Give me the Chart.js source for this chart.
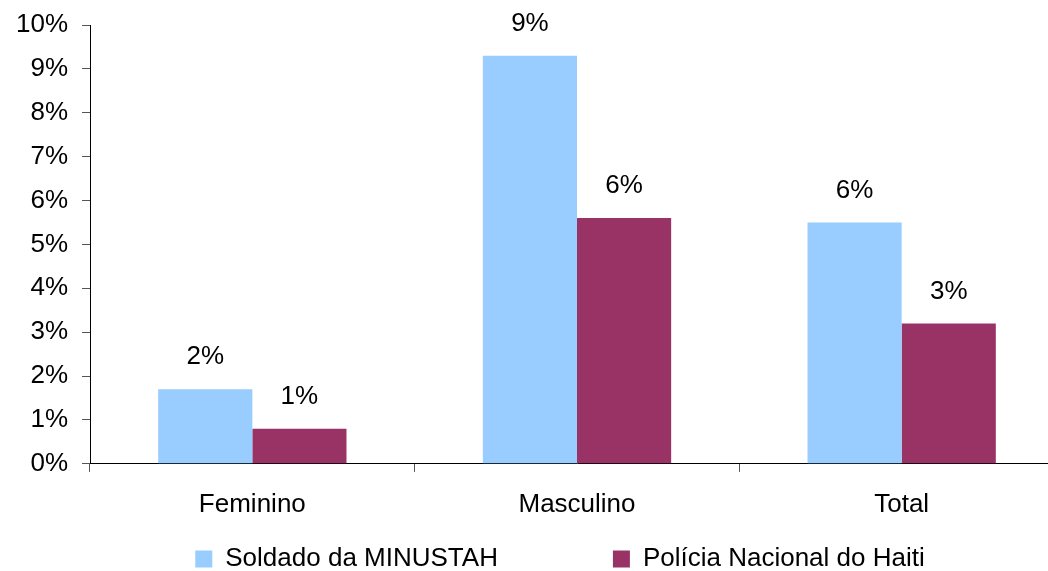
<!DOCTYPE html>
<html>
<head>
<meta charset="utf-8">
<script src="https://cdn.jsdelivr.net/npm/chart.js@4"></script>
<style>
  html, body { margin: 0; padding: 0; background: #fff; overflow: hidden; }
</style>
</head>
<body>
<canvas id="barChart" width="1064" height="571"></canvas>
<script>
let categories = ['Feminino', 'Masculino', 'Total'];
let soldado = [1.7, 9.3, 5.5];
let policia = [0.8, 5.6, 3.2];
let yTicks = [0, 1, 2, 3, 4, 5, 6, 7, 8, 9, 10];

let font = { family: '"Liberation Sans", Arial, sans-serif', size: 26 };
let legendPad = 115;

// values above the bars, rounded like the original
let barLabels = {
    id: 'barLabels',
    afterDatasetsDraw(chart) {
        let ctx = chart.ctx;
        ctx.save();
        ctx.font = '26px "Liberation Sans", Arial, sans-serif';
        ctx.fillStyle = '#000';
        ctx.textAlign = 'center';
        ctx.textBaseline = 'middle';
        chart.data.datasets.forEach((ds, i) => {
            chart.getDatasetMeta(i).data.forEach((bar, j) => {
                ctx.fillText(Math.round(ds.data[j]) + '%', bar.x, bar.y - 32);
            });
        });
        ctx.restore();
    }
};

// legend padding is only wanted between the two items: pull the row up,
// and centre it under the plot area instead of the whole canvas
let legendShift = {
    id: 'legendShift',
    afterLayout(chart) {
        let lg = chart.legend;
        lg.top += 9 - legendPad;
        let dx = (chart.chartArea.left + chart.chartArea.right) / 2 - (lg.left + lg.right) / 2 - 17;
        lg.left += dx;
        lg.right += dx;
    }
};

let barChartData = {
    labels: categories,
    datasets: [{
        label: 'Soldado da MINUSTAH',
        backgroundColor: '#99CCFF',
        borderWidth: 0,
        data: soldado,
    }, {
        label: 'Polícia Nacional do Haiti',
        backgroundColor: '#993366',
        borderWidth: 0,
        data: policia,
    }]
};

let ctx = document.getElementById('barChart').getContext('2d');

let myChart = new Chart(ctx, {
    type: 'bar',
    data: barChartData,
    plugins: [barLabels, legendShift],
    options: {
        responsive: false,
        animation: false,
        layout: { padding: { left: 0, right: 0, top: 25, bottom: 0 } },
        datasets: { bar: { barPercentage: 1, categoryPercentage: 0.58 } },
        plugins: {
            tooltip: { enabled: false },
            legend: {
                position: 'bottom',
                maxHeight: 34,
                labels: { boxWidth: 17, boxHeight: 17, padding: legendPad, color: '#000', font: font }
            }
        },
        scales: {
            x: {
                grid: { offset: true, drawOnChartArea: false, tickLength: 8, color: '#555' },
                border: { color: '#000' },
                ticks: { color: '#000', font: font, padding: 17 }
            },
            y: {
                min: 0,
                max: 10,
                afterFit(scale) {
                    scale.width = 90;
                    scale.paddingTop = 0;
                    scale.paddingBottom = 0;
                },
                afterBuildTicks(scale) { scale.ticks = yTicks.map(v => ({ value: v })); },
                grid: { drawOnChartArea: false, tickLength: 8, color: '#555' },
                border: { color: '#000' },
                ticks: { color: '#000', font: font, padding: 14, callback: v => v + '%' }
            }
        }
    }
});
</script>
</body>
</html>
